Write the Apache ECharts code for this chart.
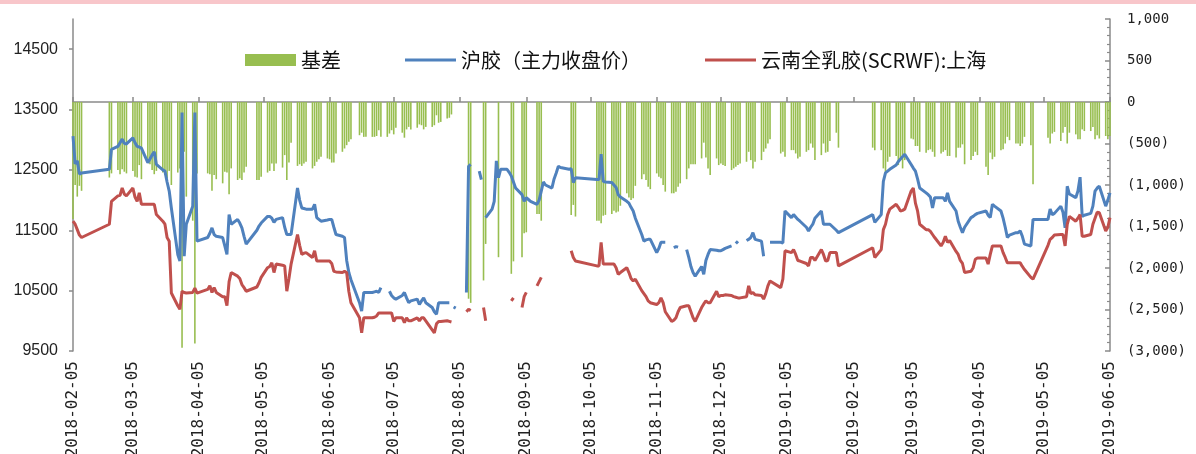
<!DOCTYPE html>
<html>
<head>
<meta charset="utf-8">
<script src="https://cdn.jsdelivr.net/npm/echarts@6/dist/echarts.min.js"></script>
<style>
html,body{margin:0;padding:0;background:#fff;}
#c{width:1196px;height:454px;}
#band{position:absolute;left:0;top:0;width:1196px;height:4px;background:#f8c6ca;z-index:10;}
</style>
</head>
<body>
<div id="c"></div>
<div id="band"></div>
<script>
// ---------- data ----------
const dates = [
 '2018-02-05','2018-02-06','2018-02-07','2018-02-08','2018-02-09','2018-02-22','2018-02-23','2018-02-26','2018-02-27','2018-02-28',
 '2018-03-01','2018-03-02','2018-03-05','2018-03-06','2018-03-07','2018-03-08','2018-03-09','2018-03-12','2018-03-13','2018-03-14','2018-03-15','2018-03-16','2018-03-19','2018-03-20','2018-03-21','2018-03-22','2018-03-23','2018-03-26','2018-03-27','2018-03-28','2018-03-29','2018-03-30',
 '2018-04-02','2018-04-03','2018-04-04','2018-04-09','2018-04-10','2018-04-11','2018-04-12','2018-04-13','2018-04-16','2018-04-17','2018-04-18','2018-04-19','2018-04-20','2018-04-23','2018-04-24','2018-04-25','2018-04-26','2018-04-27',
 '2018-05-02','2018-05-03','2018-05-04','2018-05-07','2018-05-08','2018-05-09','2018-05-10','2018-05-11','2018-05-14','2018-05-15','2018-05-16','2018-05-17','2018-05-18','2018-05-21','2018-05-22','2018-05-23','2018-05-24','2018-05-25','2018-05-28','2018-05-29','2018-05-30','2018-05-31',
 '2018-06-01','2018-06-04','2018-06-05','2018-06-06','2018-06-07','2018-06-08','2018-06-11','2018-06-12','2018-06-13','2018-06-14','2018-06-15','2018-06-19','2018-06-20','2018-06-21','2018-06-22','2018-06-25','2018-06-26','2018-06-27','2018-06-28','2018-06-29',
 '2018-07-02','2018-07-03','2018-07-04','2018-07-05','2018-07-06','2018-07-09','2018-07-10','2018-07-11','2018-07-12','2018-07-13','2018-07-16','2018-07-17','2018-07-18','2018-07-19','2018-07-20','2018-07-23','2018-07-24','2018-07-25','2018-07-26','2018-07-27','2018-07-30','2018-07-31',
 '2018-08-01','2018-08-02','2018-08-03','2018-08-06','2018-08-07','2018-08-08','2018-08-09','2018-08-10','2018-08-13','2018-08-14','2018-08-15','2018-08-16','2018-08-17','2018-08-20','2018-08-21','2018-08-22','2018-08-23','2018-08-24','2018-08-27','2018-08-28','2018-08-29','2018-08-30','2018-08-31',
 '2018-09-03','2018-09-04','2018-09-05','2018-09-06','2018-09-07','2018-09-10','2018-09-11','2018-09-12','2018-09-13','2018-09-14','2018-09-17','2018-09-18','2018-09-19','2018-09-20','2018-09-21','2018-09-25','2018-09-26','2018-09-27','2018-09-28',
 '2018-10-08','2018-10-09','2018-10-10','2018-10-11','2018-10-12','2018-10-15','2018-10-16','2018-10-17','2018-10-18','2018-10-19','2018-10-22','2018-10-23','2018-10-24','2018-10-25','2018-10-26','2018-10-29','2018-10-30','2018-10-31',
 '2018-11-01','2018-11-02','2018-11-05','2018-11-06','2018-11-07','2018-11-08','2018-11-09','2018-11-12','2018-11-13','2018-11-14','2018-11-15','2018-11-16','2018-11-19','2018-11-20','2018-11-21','2018-11-22','2018-11-23','2018-11-26','2018-11-27','2018-11-28','2018-11-29','2018-11-30',
 '2018-12-03','2018-12-04','2018-12-05','2018-12-06','2018-12-07','2018-12-10','2018-12-11','2018-12-12','2018-12-13','2018-12-14','2018-12-17','2018-12-18','2018-12-19','2018-12-20','2018-12-21','2018-12-24','2018-12-25','2018-12-26','2018-12-27','2018-12-28',
 '2019-01-02','2019-01-03','2019-01-04','2019-01-07','2019-01-08','2019-01-09','2019-01-10','2019-01-11','2019-01-14','2019-01-15','2019-01-16','2019-01-17','2019-01-18','2019-01-21','2019-01-22','2019-01-23','2019-01-24','2019-01-25','2019-01-28','2019-01-29',
 '2019-02-14','2019-02-15','2019-02-18','2019-02-19','2019-02-20','2019-02-21','2019-02-22','2019-02-25','2019-02-26','2019-02-27','2019-02-28',
 '2019-03-01','2019-03-04','2019-03-05','2019-03-06','2019-03-07','2019-03-08','2019-03-11','2019-03-12','2019-03-13','2019-03-14','2019-03-15','2019-03-18','2019-03-19','2019-03-20','2019-03-21','2019-03-22','2019-03-25','2019-03-26','2019-03-27','2019-03-28','2019-03-29',
 '2019-04-01','2019-04-02','2019-04-03','2019-04-04','2019-04-08','2019-04-09','2019-04-10','2019-04-11','2019-04-12','2019-04-15','2019-04-16','2019-04-17','2019-04-18','2019-04-19','2019-04-22','2019-04-23','2019-04-24','2019-04-25','2019-04-26','2019-04-29','2019-04-30',
 '2019-05-07','2019-05-08','2019-05-09','2019-05-10','2019-05-13','2019-05-14','2019-05-15','2019-05-16','2019-05-17','2019-05-20','2019-05-21','2019-05-22','2019-05-23','2019-05-24','2019-05-27','2019-05-28','2019-05-29','2019-05-30','2019-05-31',
 '2019-06-03','2019-06-04','2019-06-05'
];

// 沪胶（主力收盘价）
const futures = [
 13060,12600,12650,12430,12450,12510,12840,12890,12950,13010,
 12940,12930,13030,12950,12890,12880,12860,12620,12680,12750,12800,12590,12500,12480,12300,12150,11870,11100,10990,13450,11070,11600,
 11900,13450,11320,11380,11450,11540,11430,11400,11380,11240,11100,11760,11600,11680,11620,11540,11400,11270,
 11500,11570,11620,11730,11730,11700,11630,11680,11710,11550,11430,11430,11430,12200,12000,11870,11860,11850,11850,11930,11710,11680,
 11650,11670,11680,11680,11550,11430,11400,11380,11000,10800,10680,10300,10160,10470,10470,10470,10480,10490,10470,10550,
 null,10490,10420,10380,10360,10420,10470,10380,10300,10330,10360,10270,10330,10380,10300,10220,10150,10110,10300,10300,10300,10300,
 null,10230,10210,null,null,10470,12560,12590,null,12480,12340,null,11710,11850,11980,12650,12370,12510,12510,12460,12400,12300,12200,
 12090,11980,12040,12010,11980,11930,12000,12150,12300,12250,12200,12350,12450,12560,12540,12510,12520,12290,12370,
 12340,12340,12760,12310,12300,12290,12250,12210,12090,12050,11980,11950,11880,11820,11700,11430,11320,11340,
 11350,11350,11130,11200,11300,11300,11300,null,11210,11230,11220,null,11180,11050,10900,10800,10740,10900,10770,11000,11100,11180,
 11170,11160,11160,11180,11200,11240,null,11280,11320,null,11330,11350,11380,11460,11350,11320,11070,null,null,11300,
 11300,11290,11820,11710,11760,11720,11680,11650,11550,11490,11550,11600,11700,11820,11600,11600,11600,11600,11500,11460,
 11760,11630,11760,12310,12450,12480,12510,12580,12640,12680,12720,
 12760,12590,12530,12480,12350,12200,12120,12090,12050,11870,12040,12040,12040,11980,12120,11980,11820,11650,11550,11460,11550,
 11710,11730,11760,11780,11820,11750,11710,11930,11900,11820,11700,11550,11380,11420,11460,11460,11490,11400,11270,11240,11680,
 11680,11850,11760,11780,11900,11800,11540,12230,12100,12040,12150,12380,11730,11750,11780,11900,12150,12200,12230,
 11900,12000,12120
];

// 云南全乳胶(SCRWF):上海
const spot = [
 11650,11600,11510,11420,11380,11600,11980,12070,12080,12200,
 12100,12070,12200,12050,11980,12120,11930,11930,11930,11930,11930,11760,11650,11600,11380,11320,10460,10250,10190,10490,10470,10460,
 10470,10540,10460,10520,10580,10470,10550,10470,10400,10400,10250,10650,10800,10740,10700,10600,10550,10490,
 10560,10630,10720,10880,10900,10960,10800,10940,10920,10910,10490,10700,10940,11430,11250,11100,11120,11130,11050,11160,10990,10990,
 10990,10990,10990,10950,10820,10810,10800,10820,10800,10490,10300,10050,9800,10050,10050,10050,10060,10080,10130,10130,
 10130,10130,10130,9990,10050,10050,9970,10050,10000,10000,10050,10000,10050,10050,10000,9850,9800,9950,9990,9990,10000,9990,
 9980,null,null,null,null,10150,10190,10170,null,null,null,10220,10000,null,null,null,10500,null,null,null,10330,10380,null,
 10220,10400,10470,null,null,10580,10650,10720,null,null,null,null,null,null,null,null,11160,11050,10990,
 10910,10910,11300,10940,10940,10940,10940,10880,10770,10800,10880,10800,10700,10660,10690,10500,10450,10400,
 10330,10300,10270,10300,10380,10300,10150,9990,10010,10050,10150,10220,10250,10250,10150,10050,9990,10220,10280,10330,10300,10300,
 10490,10400,10420,10420,10430,10420,10400,10390,10380,10380,10400,10580,10450,10470,10430,10420,10360,10450,10580,10660,
 10550,10690,11160,11130,11180,11100,11000,10990,10950,10910,11050,11050,11000,11180,11100,10990,11000,11130,11130,10910,
 11210,11050,11180,11510,11600,11760,11850,11930,11880,11820,11830,
 11850,12150,12200,11950,11820,11600,11510,11510,11480,11430,11380,11240,11300,11400,11300,11330,11150,11100,11000,10950,10800,
 10820,10880,11020,11040,11040,10940,11100,11240,11240,11240,11130,11050,10960,10960,10960,10960,10960,10900,10850,10720,10690,
 11250,11350,11380,11420,11430,11430,11240,11600,11730,11650,11700,11760,11400,11400,11430,11600,11700,11800,11790,
 11490,11550,11710
];

// 基差
const basis = [
 -1410,-1000,-1140,-1010,-1070,-910,-860,-820,-870,-810,
 -840,-860,-830,-900,-910,-760,-930,-690,-750,-820,-870,-830,-850,-880,-920,-830,-1000,-850,-800,-2960,-600,-1140,
 -1430,-2910,-860,-860,-870,-1070,-880,-930,-980,-840,-850,-1110,-800,-940,-920,-940,-850,-780,
 -940,-940,-900,-850,-830,-740,-830,-740,-790,-640,-940,-730,-490,-770,-750,-770,-740,-720,-800,-770,-720,-690,
 -660,-680,-690,-730,-730,-620,-600,-560,-520,-480,-450,-400,-370,-420,-420,-420,-420,-410,-340,-420,
 -420,-380,-340,-390,-310,-370,-430,-330,-300,-330,-310,-270,-280,-330,-300,-300,-280,-160,-250,-240,-200,-190,
 -150,null,null,null,null,null,-2370,-2420,null,null,null,-2150,-1710,null,null,null,-1870,null,null,null,-2070,-1920,null,
 -1870,-1580,-1570,null,null,-1350,-1350,-1430,null,null,null,null,null,null,null,null,-1360,-1240,-1380,
 -1430,-1430,-1460,-1370,-1360,-1350,-1310,-1330,-1320,-1250,-1100,-1150,-1180,-1160,-1010,-930,-870,-940,
 -1020,-1050,-860,-900,-920,-1000,-1080,-1100,-1100,-1080,-1020,-980,-930,-800,-750,-750,-750,-680,-490,-670,-800,-880,
 -680,-760,-740,-760,-770,-820,-800,-780,-760,-740,-720,-600,-700,-800,-720,-700,-600,-560,-500,-450,
 -620,-600,-660,-580,-580,-620,-680,-660,-600,-580,-500,-550,-700,-640,-500,-610,-600,-470,-370,-550,
 -550,-580,-580,-800,-850,-720,-660,-650,-760,-700,-800,
 -700,-440,-450,-530,-530,-600,-610,-580,-570,-600,-660,-620,-600,-580,-650,-650,-670,-550,-550,-510,-750,
 -700,-650,-600,-640,-780,-880,-610,-690,-660,-580,-570,-500,-420,-460,-500,-500,-530,-500,-420,-520,-990,
 -430,-500,-380,-360,-470,-370,-300,-500,-370,-390,-450,-450,-330,-350,-350,-300,-450,-400,-440,
 -410,-450,-410
];

const tickLabels = ['2018-02-05','2018-03-05','2018-04-05','2018-05-05','2018-06-05','2018-07-05','2018-08-05','2018-09-05','2018-10-05','2018-11-05','2018-12-05','2019-01-05','2019-02-05','2019-03-05','2019-04-05','2019-05-05','2019-06-05'];
const leftTicks = [9500, 10500, 11500, 12500, 13500, 14500];
const seriesNames = ['基差', '沪胶（主力收盘价）', '云南全乳胶(SCRWF):上海'];

// ---------- chart ----------
const toTs = s => { const p = s.split('-').map(Number); return Date.UTC(p[0], p[1] - 1, p[2]); };
const ts = dates.map(toTs);
const tickTs = tickLabels.map(toTs);
const pairs = vals => ts.map((t, i) => [t, vals[i]]);
const withCommas = n => String(n).replace(/\B(?=(\d{3})+(?!\d))/g, ',');
const lineIcon = 'path://M0,0L52,0L52,3L0,3Z';

const axisGray = '#8a8a8a';
const chart = echarts.init(document.getElementById('c'), null, {renderer: 'canvas'});
chart.setOption({
  animation: false,
  backgroundColor: '#ffffff',
  textStyle: {fontFamily: 'Noto Sans CJK SC'},
  grid: {left: 73, right: 86, top: 19, bottom: 103, containLabel: false, outerBoundsMode: 'none'},
  legend: {
    left: 245, top: 50, padding: 0,
    itemWidth: 51, itemHeight: 12, itemGap: 64,
    textStyle: {fontSize: 20, color: '#111', fontFamily: 'Noto Sans CJK SC'},
    data: [
      {name: seriesNames[0], icon: 'rect'},
      {name: seriesNames[1], icon: lineIcon},
      {name: seriesNames[2], icon: lineIcon}
    ]
  },
  xAxis: {
    type: 'value',
    min: tickTs[0], max: tickTs[tickTs.length - 1],
    axisLine: {lineStyle: {color: axisGray, width: 1.5}},
    axisTick: {show: true, inside: true, length: 5, lineStyle: {color: axisGray, width: 1.5}, customValues: tickTs},
    axisLabel: {
      customValues: tickTs, rotate: 90, margin: 10,
      fontFamily: 'DejaVu Sans Mono', fontSize: 16, color: '#222',
      formatter: v => { const i = tickTs.indexOf(v); return i >= 0 ? tickLabels[i] : ''; }
    },
    splitLine: {show: false}
  },
  yAxis: [
    {
      type: 'value', min: 9500, max: 15000, interval: 1000, position: 'left',
      axisLine: {show: true, lineStyle: {color: axisGray, width: 1.5}},
      axisTick: {show: true, length: 4, lineStyle: {color: axisGray, width: 1.5}, customValues: leftTicks},
      axisLabel: {
        customValues: leftTicks, margin: 15, fontFamily: 'Liberation Sans', fontSize: 16, color: '#222',
        formatter: v => String(v)
      },
      splitLine: {show: false}
    },
    {
      type: 'value', min: -3000, max: 1000, interval: 500, position: 'right',
      axisLine: {show: true, lineStyle: {color: axisGray, width: 1.5}},
      axisTick: {show: true, inside: true, length: 5, lineStyle: {color: axisGray, width: 1.5}},
      minorTick: {show: true, splitNumber: 5, length: 3, lineStyle: {color: axisGray, width: 1.2}},
      axisLabel: {
        margin: 17, fontFamily: 'DejaVu Sans Mono', fontSize: 14, color: '#222',
        formatter: v => v < 0 ? '(' + withCommas(-v) + ')' : withCommas(v)
      },
      splitLine: {show: false}
    }
  ],
  series: [
    {
      name: seriesNames[0], type: 'bar', yAxisIndex: 1, barWidth: 1.6,
      itemStyle: {color: '#98BE50'}, data: pairs(basis)
    },
    {
      name: seriesNames[1], type: 'line', yAxisIndex: 0, symbol: 'none', connectNulls: false,
      itemStyle: {color: '#4F81BD'}, lineStyle: {color: '#4F81BD', width: 3}, data: pairs(futures)
    },
    {
      name: seriesNames[2], type: 'line', yAxisIndex: 0, symbol: 'none', connectNulls: false,
      itemStyle: {color: '#C0504D'}, lineStyle: {color: '#C0504D', width: 3}, data: pairs(spot)
    }
  ]
});
</script>
</body>
</html>
